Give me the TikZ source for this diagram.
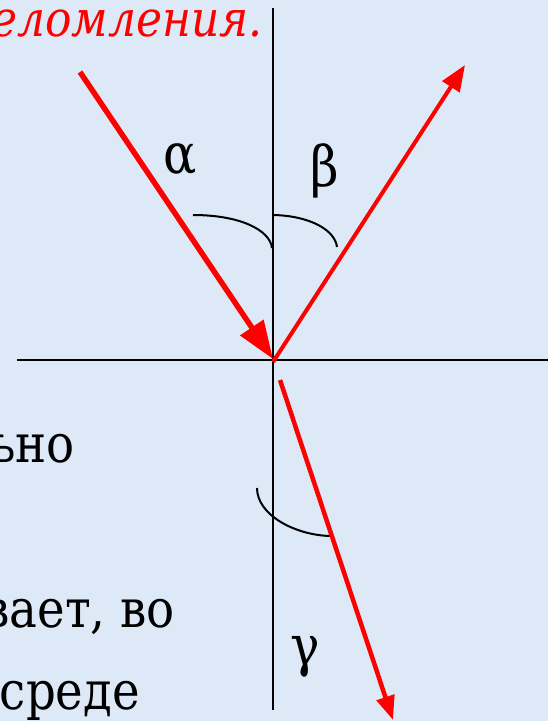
\documentclass[tikz,border=0pt]{standalone}
\usepackage{fontspec}
\newfontfamily\tnr{DejaVu Serif}[FakeStretch=0.88]
\usetikzlibrary{arrows.meta}
\definecolor{bgblue}{RGB}{221,233,246}
\definecolor{rayred}{RGB}{255,0,0}
\begin{document}
\begin{tikzpicture}[x=1pt,y=-1pt,
  axis/.style={line width=2pt,black},
  anglearc/.style={line width=2pt,black},
  ray/.style={draw=rayred},
  body/.style={anchor=base east,inner sep=0pt,font=\tnr\fontsize{53}{60}\selectfont},
  greek/.style={anchor=base,inner sep=0pt,font=\tnr\fontsize{56}{60}\selectfont}]
\useasboundingbox (0,0) rectangle (548,721);
\fill[bgblue] (0,0) rectangle (548,721);
\begin{scope}
\clip (0,0) rectangle (548,721);
% texts
\node[body,text=rayred,font=\tnr\itshape\fontsize{50}{60}\selectfont] (t1) at (263,36) {еломления.};
\node[body] (t2) at (75,462) {ьно};
\node[body] (t3) at (175,627) {вает, во};
\node[body] (t4) at (140,709) {среде};
\node[greek] (ga) at (180,173) {α};
\node[greek] (gb) at (325,186) {β};
\node[greek] (gg) at (305,665) {γ};
% coordinates
\coordinate (vtop) at (273,8);
\coordinate (vbot) at (273,710);
\coordinate (hl) at (17,360);
\coordinate (hr) at (548,360);
\coordinate (O) at (273,359);
\coordinate (inc) at (80,72);
\coordinate (reflS) at (273,362);
\coordinate (reflE) at (465,65);
\coordinate (refrS) at (280,380);
\coordinate (refrE) at (393,720);
\coordinate (a1) at (193,215);
\coordinate (a2) at (272,248);
\coordinate (b1) at (274,215);
\coordinate (b2) at (337,247);
\coordinate (c1) at (257,488);
\coordinate (c2) at (330,536);
% axes
\draw[axis] (vtop) -- (vbot);
\draw[axis] (hl) -- (hr);
% angle arcs
\draw[anglearc] (a1) .. controls (240,215) and (270,230) .. (a2);
\draw[anglearc] (b1) .. controls (310,216) and (335,230) .. (b2);
\draw[anglearc] (c1) .. controls (257,515) and (295,535) .. (c2);
% rays
\draw[ray,line width=5.5pt,-{Triangle[length=38pt,width=27pt]}] (inc) -- (O);
\draw[ray,line width=4pt,-{Triangle[length=26pt,width=20pt]}] (reflS) -- (reflE);
\draw[ray,line width=4.5pt,-{Triangle[length=24pt,width=18pt]}] (refrS) -- (refrE);
\end{scope}
\end{tikzpicture}
\end{document}
